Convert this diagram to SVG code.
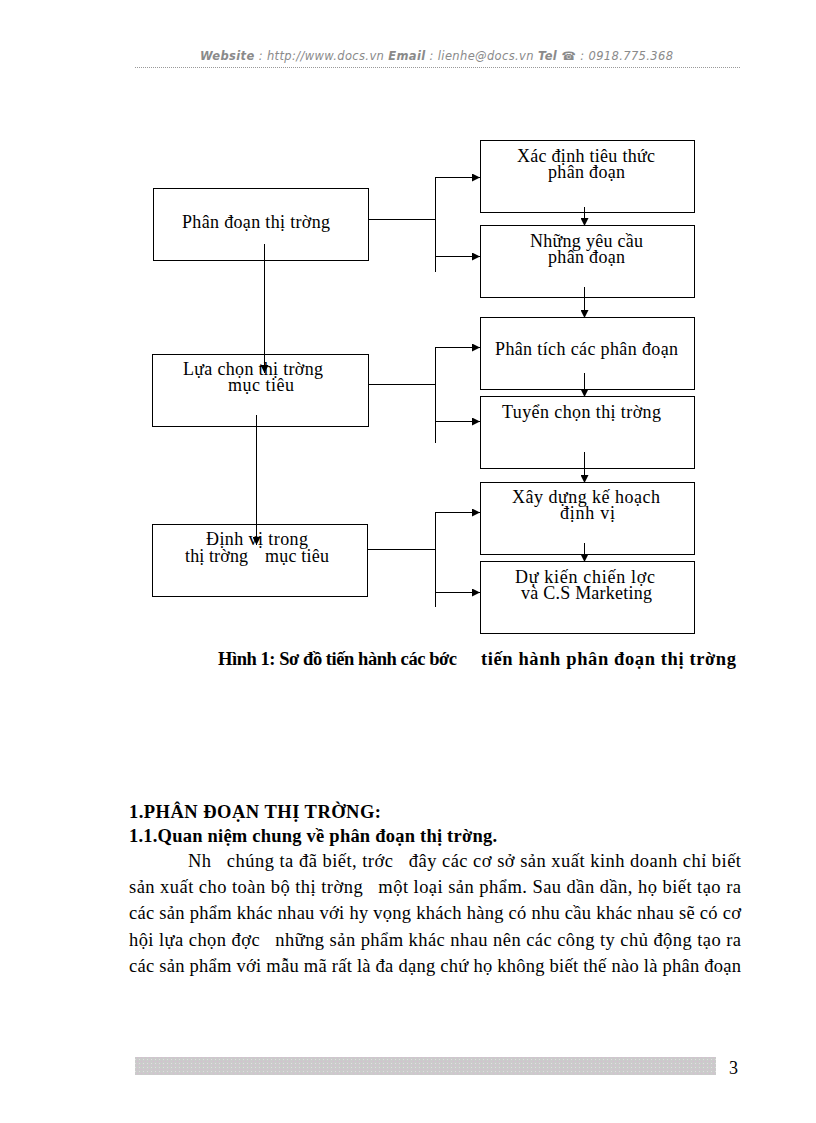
<svg xmlns="http://www.w3.org/2000/svg" width="816" height="1123" viewBox="0 0 816 1123">
<style>
.box{fill:none;stroke:#000;stroke-width:1}
.ln{fill:none;stroke:#000;stroke-width:1}
.t{font-family:"Liberation Serif","Times New Roman",serif;font-size:18px;fill:#000}
.b{font-family:"Liberation Serif","Times New Roman",serif;font-size:18.5px;font-weight:bold;fill:#000}
.body{font-family:"Liberation Serif","Times New Roman",serif;font-size:18.5px;fill:#000}
.hd{font-family:"DejaVu Sans",Verdana,sans-serif;font-size:11.5px;font-style:italic;fill:#8a8a8a}
</style>
<defs>
<marker id="ah" markerUnits="userSpaceOnUse" markerWidth="8" markerHeight="8" refX="8" refY="4" orient="auto">
<path d="M0,0 L8,4 L0,8 z" fill="#000"/>
</marker>
<pattern id="dots" width="4" height="4" patternUnits="userSpaceOnUse">
<rect width="4" height="4" fill="#cbcbcb"/>
<rect x="1" y="1" width="1" height="1" fill="#d9b8d3"/>
<rect x="3" y="3" width="1" height="1" fill="#e0e0e0"/>
</pattern>
</defs>
<rect width="816" height="1123" fill="#fff"/>

<g id="header">
<text class="hd" x="200" y="60" textLength="473" lengthAdjust="spacing"><tspan font-weight="bold">Website</tspan> : http://www.docs.vn <tspan font-weight="bold">Email</tspan>  : lienhe@docs.vn  <tspan font-weight="bold">Tel ☎</tspan> : 0918.775.368</text>
<line x1="135" y1="67.5" x2="741" y2="67.5" stroke="#999" stroke-width="1" stroke-dasharray="1,1"/>
</g>

<g id="nodeA">
<rect class="box" x="153.5" y="188.5" width="215" height="72"/>
<text class="t" x="182" y="228" textLength="148" lengthAdjust="spacing">Phân đoạn thị trờng</text>
</g>
<g id="nodeB">
<rect class="box" x="152.5" y="354.5" width="216" height="72"/>
<text class="t" x="183" y="375" textLength="140" lengthAdjust="spacing">Lựa chọn thị trờng</text>
<text class="t" x="228" y="391" textLength="66" lengthAdjust="spacing">mục tiêu</text>
</g>
<g id="nodeC">
<rect class="box" x="152.5" y="524.5" width="215" height="72"/>
<text class="t" x="206" y="545" textLength="102" lengthAdjust="spacing">Định vị trong</text>
<text class="t" x="185" y="562" textLength="63" lengthAdjust="spacing">thị trờng</text>
<text class="t" x="265" y="562" textLength="64" lengthAdjust="spacing">mục tiêu</text>
</g>

<g id="nodeR1">
<rect class="box" x="480.5" y="140.5" width="214" height="72"/>
<text class="t" x="517" y="162" textLength="138" lengthAdjust="spacing">Xác định tiêu thức</text>
<text class="t" x="548" y="178" textLength="77" lengthAdjust="spacing">phân đoạn</text>
</g>
<g id="nodeR2">
<rect class="box" x="480.5" y="225.5" width="214" height="72"/>
<text class="t" x="530" y="247" textLength="113" lengthAdjust="spacing">Những yêu cầu</text>
<text class="t" x="548" y="263" textLength="77" lengthAdjust="spacing">phân đoạn</text>
</g>
<g id="nodeR3">
<rect class="box" x="480.5" y="317.5" width="214" height="72"/>
<text class="t" x="495" y="355" textLength="183" lengthAdjust="spacing">Phân tích các phân đoạn</text>
</g>
<g id="nodeR4">
<rect class="box" x="480.5" y="396.5" width="214" height="72"/>
<text class="t" x="502" y="418" textLength="159" lengthAdjust="spacing">Tuyển chọn thị trờng</text>
</g>
<g id="nodeR5">
<rect class="box" x="480.5" y="482.5" width="214" height="72"/>
<text class="t" x="512" y="503" textLength="148" lengthAdjust="spacing">Xây dựng kế hoạch</text>
<text class="t" x="560" y="519" textLength="55" lengthAdjust="spacing">định vị</text>
</g>
<g id="nodeR6">
<rect class="box" x="480.5" y="561.5" width="214" height="72"/>
<text class="t" x="515" y="583" textLength="140" lengthAdjust="spacing">Dự kiến chiến lợc</text>
<text class="t" x="521" y="599" textLength="131" lengthAdjust="spacing">và C.S Marketing</text>
</g>

<g id="connectors">
<line class="ln" x1="368" y1="219.5" x2="435.5" y2="219.5"/>
<line class="ln" x1="435.5" y1="177" x2="435.5" y2="272"/>
<line class="ln" x1="435.5" y1="177.5" x2="480" y2="177.5" marker-end="url(#ah)"/>
<line class="ln" x1="435.5" y1="256.5" x2="480" y2="256.5" marker-end="url(#ah)"/>

<line class="ln" x1="368" y1="384.5" x2="435.5" y2="384.5"/>
<line class="ln" x1="435.5" y1="347" x2="435.5" y2="443"/>
<line class="ln" x1="435.5" y1="347.5" x2="480" y2="347.5" marker-end="url(#ah)"/>
<line class="ln" x1="435.5" y1="421.5" x2="480" y2="421.5" marker-end="url(#ah)"/>

<line class="ln" x1="367" y1="549.5" x2="435.5" y2="549.5"/>
<line class="ln" x1="435.5" y1="512" x2="435.5" y2="607"/>
<line class="ln" x1="435.5" y1="512.5" x2="480" y2="512.5" marker-end="url(#ah)"/>
<line class="ln" x1="435.5" y1="592.5" x2="480" y2="592.5" marker-end="url(#ah)"/>

<line class="ln" x1="264.5" y1="244" x2="264.5" y2="373" marker-end="url(#ah)"/>
<line class="ln" x1="256.5" y1="415" x2="256.5" y2="545" marker-end="url(#ah)"/>

<line class="ln" x1="584.5" y1="207" x2="584.5" y2="226" marker-end="url(#ah)"/>
<line class="ln" x1="584.5" y1="287" x2="584.5" y2="318" marker-end="url(#ah)"/>
<line class="ln" x1="584.5" y1="373" x2="584.5" y2="397" marker-end="url(#ah)"/>
<line class="ln" x1="584.5" y1="452" x2="584.5" y2="483" marker-end="url(#ah)"/>
<line class="ln" x1="584.5" y1="543" x2="584.5" y2="562" marker-end="url(#ah)"/>
</g>

<g id="caption">
<text class="b" x="218" y="665" textLength="239" lengthAdjust="spacing">Hình 1: Sơ đồ tiến hành các bớc</text>
<text class="b" x="481" y="665" textLength="255" lengthAdjust="spacing">tiến hành phân đoạn thị trờng</text>
</g>

<g id="bodytext">
<text class="b" x="129" y="818" textLength="252" lengthAdjust="spacing">1.PHÂN ĐOẠN THỊ TRỜNG:</text>
<text class="b" x="129" y="842" textLength="368" lengthAdjust="spacing">1.1.Quan niệm chung về phân đoạn thị trờng.</text>
<text class="body" x="188" y="867" textLength="553" lengthAdjust="spacing" xml:space="preserve">Nh   chúng ta đã biết, trớc   đây các cơ sở sản xuất kinh doanh chỉ biết</text>
<text class="body" x="129" y="893" textLength="612" lengthAdjust="spacing" xml:space="preserve">sản xuất cho toàn bộ thị trờng   một loại sản phẩm. Sau dần dần, họ biết tạo ra</text>
<text class="body" x="129" y="919" textLength="612" lengthAdjust="spacing">các sản phẩm khác nhau với hy vọng khách hàng có nhu cầu khác nhau sẽ có cơ</text>
<text class="body" x="129" y="946" textLength="612" lengthAdjust="spacing" xml:space="preserve">hội lựa chọn đợc   những sản phẩm khác nhau nên các công ty chủ động tạo ra</text>
<text class="body" x="129" y="972" textLength="612" lengthAdjust="spacing">các sản phẩm với mẫu mã rất là đa dạng chứ họ không biết thế nào là phân đoạn</text>
</g>

<g id="footer">
<rect x="135" y="1057" width="581" height="18" fill="url(#dots)"/>
<text class="t" x="729" y="1074">3</text>
</g>
</svg>
